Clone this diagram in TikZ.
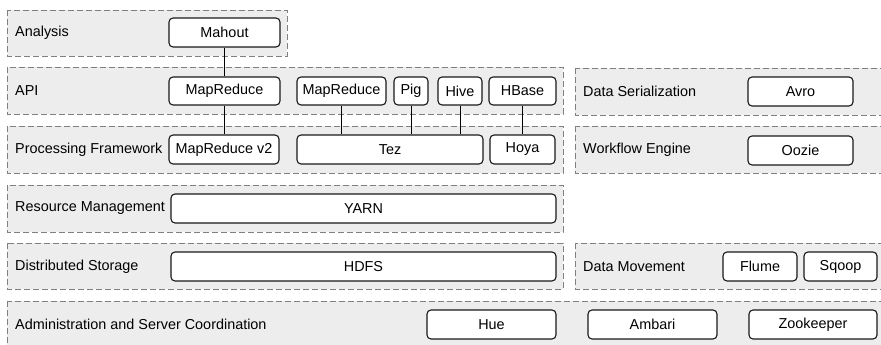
\documentclass[tikz,border=0pt]{standalone}
\usepackage{fontspec}
\setmainfont{Liberation Sans}
\begin{document}
\begin{tikzpicture}[x=1pt,y=-1pt,
  layer/.style={draw=black!50, fill=black!7, line width=0.9pt, dash pattern=on 6pt off 3pt},
  comp/.style={draw=black!90, fill=white, rounded corners=4pt, line width=1.1pt, inner sep=0pt,
    font=\fontsize{14.4}{16}\selectfont, minimum height=29pt},
  lbl/.style={anchor=west, inner sep=0pt, font=\fontsize{14.4}{16}\selectfont},
  conn/.style={draw=black, line width=1pt}]
\useasboundingbox (0,0) rectangle (881,345);
\clip (0,0) rectangle (881,345);
% layers
\draw[layer] (7,10) rectangle (287,56);
\draw[layer] (7,67) rectangle (563,114);
\draw[layer] (575,68) rectangle (895,115);
\draw[layer] (7,126) rectangle (563,173);
\draw[layer] (575,126) rectangle (895,173);
\draw[layer] (7,185) rectangle (563,232);
\draw[layer] (7,243) rectangle (563,289);
\draw[layer] (575,243) rectangle (895,289);
\draw[layer] (7,301) rectangle (895,365);
% layer labels
\node[lbl] (lanalysis) at (15,33) {Analysis};
\node[lbl] (lapi) at (15,91) {API};
\node[lbl] (lser) at (583,91.5) {Data Serialization};
\node[lbl] (lproc) at (15,150) {Processing Framework};
\node[lbl] (lwork) at (583,150) {Workflow Engine};
\node[lbl] (lres) at (15,208.5) {Resource Management};
\node[lbl] (lstor) at (15,266.5) {Distributed Storage};
\node[lbl] (lmove) at (583,266.5) {Data Movement};
\node[lbl] (ladmin) at (15,324.5) {Administration and Server Coordination};
% components
\node[comp, minimum width=111pt] (mahout) at (224.5,32.5) {Mahout};
\node[comp, minimum width=111pt, minimum height=28pt] (mr1) at (224.5,91) {MapReduce};
\node[comp, minimum width=89pt, minimum height=28pt] (mr2) at (341.5,91) {MapReduce};
\node[comp, minimum width=34pt, minimum height=28pt] (pig) at (411,91) {Pig};
\node[comp, minimum width=44pt, minimum height=28pt] (hive) at (460,91) {Hive};
\node[comp, minimum width=67pt, minimum height=28pt] (hbase) at (522.5,91) {HBase};
\node[comp, minimum width=105pt] (avro) at (800.5,91.5) {Avro};
\node[comp, minimum width=110pt] (mrv2) at (224,149.5) {MapReduce v2};
\node[comp, minimum width=186pt] (tez) at (390,149.5) {Tez};
\node[comp, minimum width=65pt] (hoya) at (522.5,149.5) {Hoya};
\node[comp, minimum width=105pt] (oozie) at (800.5,150.5) {Oozie};
\node[comp, minimum width=385pt] (yarn) at (363.5,208.5) {YARN};
\node[comp, minimum width=385pt] (hdfs) at (363.5,266.5) {HDFS};
\node[comp, minimum width=74pt] (flume) at (760,266.5) {Flume};
\node[comp, minimum width=73pt] (sqoop) at (840.5,266.5) {Sqoop};
\node[comp, minimum width=129pt] (hue) at (491.5,324.5) {Hue};
\node[comp, minimum width=129pt] (ambari) at (652.5,324.5) {Ambari};
\node[comp, minimum width=128pt] (zoo) at (813,324.5) {Zookeeper};
% connectors
\draw[conn] (mahout.south) -- (mr1.north);
\draw[conn] (mr1.south) -- (mr1.south |- mrv2.north);
\draw[conn] (mr2.south) -- (mr2.south |- tez.north);
\draw[conn] (pig.south) -- (pig.south |- tez.north);
\draw[conn] (hive.south) -- (hive.south |- tez.north);
\draw[conn] (hbase.south) -- (hbase.south |- hoya.north);
\end{tikzpicture}
\end{document}
